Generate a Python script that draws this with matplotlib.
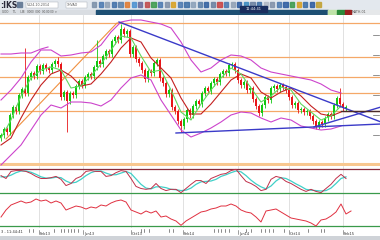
import matplotlib
matplotlib.use("Agg")
import matplotlib.pyplot as plt
import numpy as np
from matplotlib.patches import Rectangle

W, H = 380, 240

# ---- price data: closes (arbitrary price points) ----
first_open = 27
closes = [30, 36, 33, 50, 58, 54, 70, 76, 72, 88, 92, 89, 99, 94, 100, 97, 95, 101, 104, 101,
          68, 73, 64, 72, 70, 79, 84, 80, 88, 91, 89, 98, 104, 101, 109, 114, 111, 124, 128, 125,
          136, 131, 134, 111, 118, 106, 102, 95, 86, 94, 92, 102, 105, 87, 82, 71, 75, 58, 54, 44,
          39, 46, 55, 50, 59, 64, 61, 72, 77, 74, 82, 86, 83, 91, 94, 92, 100, 101, 95, 85,
          80, 83, 75, 77, 66, 59, 52, 60, 68, 65, 77, 79, 76, 80, 78, 75, 68, 60, 62, 55,
          56, 53, 54, 49, 44, 39, 43, 41, 47, 51, 49, 60, 67, 61, 57, 58]
long_highs = {8: 117, 19: 108, 32: 125, 40: 141, 113: 77}
long_lows = {22: 33, 60: 33, 105: 36}

# overlays sampled every 10 time units (t = 0 .. 340)
ma_fast = [27, 45, 69, 87, 95, 98, 95, 77, 79, 89, 101, 115, 129, 127, 109, 93, 95, 75, 53, 45,
           61, 75, 87, 97, 91, 77, 63, 69, 78, 75, 61, 53, 45, 49, 59]
ma_slow = [20, 27, 47, 65, 80, 91, 95, 89, 79, 81, 91, 103, 117, 127, 123, 107, 97, 87, 67, 51,
           51, 61, 73, 85, 91, 87, 73, 67, 73, 77, 69, 59, 51, 49, 53]
bb_upper = [65, 75, 87, 103, 115, 115, 109, 110, 112, 113, 120, 133, 143, 145, 145, 143, 141, 137,
            123, 105, 93, 97, 105, 110, 109, 105, 97, 93, 91, 89, 87, 85, 81, 75, 72]
bb_lower = [0, 10, 20, 35, 50, 60, 57, 63, 63, 62, 59, 65, 77, 87, 90, 85, 65, 50, 35, 28,
            32, 37, 43, 50, 53, 52, 47, 43, 47, 45, 39, 37, 35, 36, 39]
# older upper band segment visible at the far left
prev_upper_t = [0, 10, 20, 30, 40, 47]
prev_upper = [111, 111, 112, 112, 116, 118]

# horizontal price levels and drawn trend lines
levels = [142, 108, 88, 72, 54]
orange_trend = [(5, 26), (116, 142), (122, 142)]
blue_trends = [[(118, 143), (380, 43)], [(175, 32), (380, 41)], [(313, 38), (380, 58)]]
dark_level = [(340, 54), (380, 54)]

# stochastic (%K, %D) sampled every 5 time units
stoch_k = [63, 56, 73, 75, 75, 73, 68, 61, 56, 56, 58, 61, 54, 39, 44, 56, 61, 73, 75, 73,
           73, 61, 63, 70, 75, 73, 56, 37, 32, 30, 32, 44, 32, 27, 30, 30, 22, 32, 42, 51,
           51, 44, 56, 61, 66, 68, 75, 78, 63, 49, 44, 37, 27, 30, 54, 61, 58, 49, 44, 37,
           30, 25, 30, 25, 22, 32, 42, 56, 66, 56]
stoch_d = [60, 60, 64, 70, 74, 74, 71, 66, 60, 57, 57, 59, 58, 50, 45, 47, 54, 63, 70, 74,
           74, 69, 65, 65, 69, 73, 68, 55, 42, 33, 31, 36, 36, 34, 30, 29, 27, 28, 33, 42,
           48, 49, 50, 54, 61, 65, 70, 74, 72, 63, 52, 43, 36, 31, 38, 50, 58, 56, 50, 43,
           37, 30, 28, 27, 26, 27, 33, 44, 56, 60]
# RSI sampled every 5 time units
rsi = [43.5, 54, 61.5, 64.5, 67.5, 64.5, 66, 70.5, 67.5, 69, 64.5, 67.5, 64.5, 54, 57, 60, 58.5,
       55.5, 58.5, 57, 61.5, 60, 64.5, 67.5, 69, 66, 54, 51, 48, 52.5, 49.5, 52.5, 43.5, 45, 40.5,
       37.5, 31, 37.5, 42, 46.5, 51, 52.5, 55.5, 57, 60, 60, 63, 60, 54, 51, 49.5, 43.5, 36, 52.5,
       54, 55.5, 51, 46.5, 42, 40.5, 39, 37.5, 34.5, 30, 39, 40.5, 45, 51, 63, 48, 52.5]

month_ticks = [38, 82, 130, 182, 237, 288, 342]
month_labels = ["Feb13", "Jun13", "Oct13", "Feb14", "Jun14", "Oct14", "Feb15"]
event_ticks = [28, 32, 53, 60, 63, 67, 70, 73, 77, 140, 143, 148, 168, 172, 213, 217, 220,
               224, 228, 245, 250, 260, 264, 268, 272, 283, 307, 320, 323]

GREEN = "#12c812"
RED = "#e8161a"
MAGENTA = "#cc44cc"
BLUE = "#3a3ac8"
ORANGE = "#f5a868"
GRID = "#dcdcdc"

plt.rcParams["font.family"] = "DejaVu Sans"
fig = plt.figure(figsize=(3.8, 2.4), dpi=100)
bg = fig.add_axes([0, 0, 1, 1])
bg.set_xlim(0, W)
bg.set_ylim(H, 0)
bg.axis("off")


def px_axes(x0, y0, x1, y1):
    a = fig.add_axes([x0 / W, 1 - y1 / H, (x1 - x0) / W, (y1 - y0) / H])
    a.set_xlim(-1, W - 1)
    for s in a.spines.values():
        s.set_visible(False)
    a.set_xticks([])
    a.set_yticks([])
    return a


# ---- toolbar ----
bg.add_patch(Rectangle((0, 0), W, 9.5, color="#e3e8ee"))
bg.add_patch(Rectangle((0, 9.5), 96, 5.5, color="#d9dde2"))
bg.add_patch(Rectangle((96, 9.5), 232, 5.5, color="#1d4f73"))
bg.add_patch(Rectangle((328, 9.5), 52, 5.5, color="#e6e8ea"))
bg.text(0, 5, ":IKS", fontsize=5.5, fontweight="bold", color="#2a2a3a", va="center", ha="left")
bg.add_patch(Rectangle((17, 2), 5, 5, color="#6a7f9a"))
bg.add_patch(Rectangle((26, 2), 32, 6, facecolor="white", edgecolor="#a0a8b0", lw=0.3))
bg.text(27, 5, "5124-10-2014", fontsize=2.3, color="#555", va="center")
bg.add_patch(Rectangle((66, 2), 21, 6, facecolor="white", edgecolor="#a0a8b0", lw=0.3))
bg.text(67, 5, "1HVAO", fontsize=2.3, color="#555", va="center")
icon_colors = ["#7a8fa8", "#4a78b0", "#90a0b4", "#3f6fa8", "#5a7fa8", "#e07a30", "#4a90d0",
               "#6a6a9a", "#c04848", "#3a9a4a", "#4a78b0", "#8090a8", "#d8a020", "#4a78b0",
               "#3c6ea5", "#8aa0b8", "#5a7fa8", "#2f5f9f", "#6a80a0", "#c84040", "#4a78b0",
               "#90a0b4", "#2a5aa0", "#3a8ac0", "#6a80a0", "#3c6ea5", "#b0b8c4", "#8090a8",
               "#4a78b0", "#2a5aa0", "#3a9a4a", "#d8a020", "#3c6ea5", "#2a5aa0", "#c0a030"]
for i, c in enumerate(icon_colors):
    bg.add_patch(Rectangle((92 + i * 6.6, 2.2), 4.2, 4.6, color=c, alpha=0.85))
bg.add_patch(Rectangle((240, 5.5), 27, 6, color="#1a2e5e"))
bg.text(253.5, 8.5, "11:44:41", fontsize=2.6, color="white", ha="center", va="center")
bg.text(2, 12.3, "GOO     TL     LIB   0000  000  00:00:00  ▾", fontsize=2.0, color="#555",
        va="center")
bg.add_patch(Rectangle((328, 10), 9, 4.5, color="#bfe3a8"))
bg.add_patch(Rectangle((337, 10), 8, 4.5, color="#2a8a3a"))
bg.add_patch(Rectangle((345, 10), 6, 4.5, color="#9a2020"))
bg.text(352, 12.3, "MATH-01", fontsize=2.3, color="#555", va="center")
bg.add_patch(Rectangle((0, 236), W, 4, color="#cfd3d8"))

# ---- main price panel ----
ax = px_axes(0, 15, W, 166)
ax.set_ylim(-1, 150)
for m in month_ticks:
    ax.axvline(m, color=GRID, lw=0.6, zorder=0)
for lv in levels:
    ax.axhline(lv, color=ORANGE, lw=0.9, zorder=1)
ax.axhline(1, color="#f8c890", lw=2.2, zorder=1)

t = np.arange(len(closes)) * 3
opens = [first_open] + closes[:-1]
for i, (ti, o, c) in enumerate(zip(t, opens, closes)):
    col = GREEN if c >= o else RED
    hi = long_highs.get(i, max(o, c) + 2.5)
    lo = long_lows.get(i, min(o, c) - 2.5)
    ax.vlines(ti, lo, hi, color=col, lw=0.6, zorder=3)
    ax.bar(ti, max(abs(c - o), 0.8), bottom=min(o, c), width=1.8, color=col, lw=0, zorder=3)

t_ov = np.arange(len(ma_fast)) * 10
ax.plot(t_ov, bb_upper, color=MAGENTA, lw=0.8, zorder=4)
ax.plot(t_ov, bb_lower, color=MAGENTA, lw=0.8, zorder=4)
ax.plot(prev_upper_t, prev_upper, color=MAGENTA, lw=0.8, zorder=4)
ax.plot(t_ov, ma_slow, color="#c42020", lw=0.8, zorder=4)
ax.plot(t_ov, ma_fast, color="#60d860", lw=0.8, zorder=4)

ox, oy = zip(*orange_trend)
ax.plot(ox, oy, color="#f09040", lw=0.8, zorder=2)
for line in blue_trends:
    lx, ly = zip(*line)
    ax.plot(lx, ly, color=BLUE, lw=1.0, zorder=5)
dx, dy = zip(*dark_level)
ax.plot(dx, dy, color="#4a2a2a", lw=1.0, zorder=5)
for yv in [130, 110, 90, 70, 50, 30]:
    ax.plot([372, 378], [yv, yv], color="#666", lw=0.5, zorder=5)

# ---- stochastic panel ----
ax2 = px_axes(0, 166, W, 197.5)
ax2.set_ylim(10.4, 86)
for m in month_ticks:
    ax2.axvline(m, color=GRID, lw=0.6, zorder=0)
ax2.axhline(80, color="#8a2a3a", lw=0.9)
ax2.axhline(20, color="#3a9a4a", lw=0.9)
ts = np.arange(len(stoch_k)) * 5
ax2.plot(ts, stoch_d, color="#40d0c8", lw=0.9)
ax2.plot(ts, stoch_k, color="#c0304a", lw=0.7)
bg.plot([0, W], [197.8, 197.8], color="#d0d0d0", lw=0.6)

# ---- RSI panel ----
ax3 = px_axes(0, 198, W, 228)
ax3.set_ylim(27, 72)
for m in month_ticks:
    ax3.axvline(m, color=GRID, lw=0.6, zorder=0)
ax3.axhline(30, color="#3a9a4a", lw=0.9)
tr = np.arange(len(rsi)) * 5
ax3.plot(tr, rsi, color="#e03040", lw=0.7)

# ---- time axis strip ----
axx = px_axes(0, 228, W, 236)
axx.set_ylim(0, 1)
axx.text(0, 0.45, "3 - 11:44:41", fontsize=2.6, color="#333", va="center")
for m, lab in zip(month_ticks, month_labels):
    axx.plot([m, m], [0.2, 0.8], color="#555", lw=0.4)
    axx.text(m + 1, 0.25, lab, fontsize=2.6, color="#333", va="center")
for e in event_ticks:
    axx.plot([e, e], [0.55, 0.85], color="#333", lw=0.4)

fig.savefig("out.png", dpi=100)
